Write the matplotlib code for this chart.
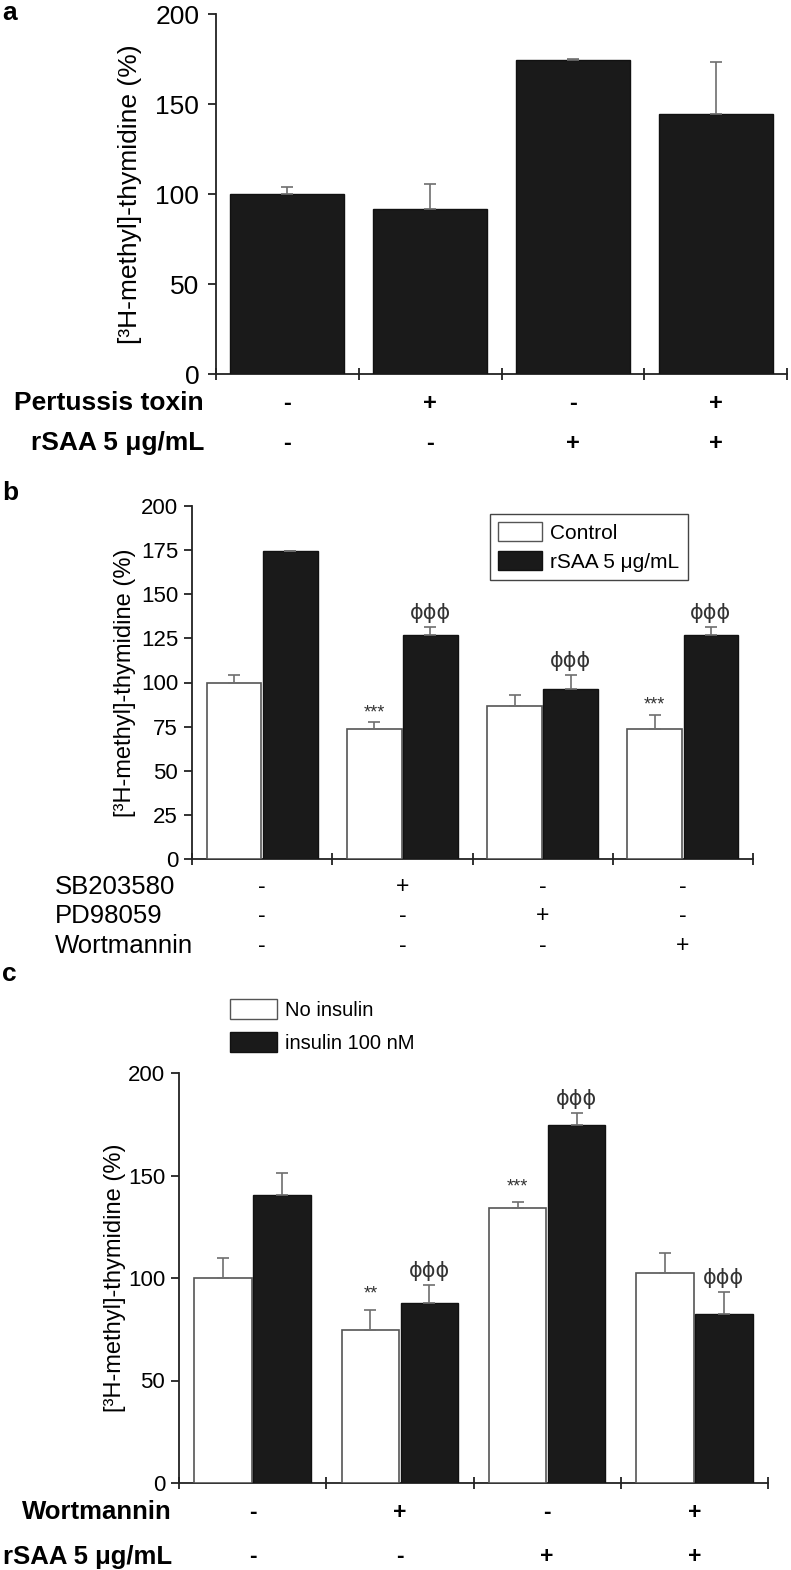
import matplotlib
matplotlib.use("Agg")
import matplotlib.pyplot as plt
import numpy as np
from matplotlib.patches import Patch

plt.rcParams["font.family"] = ["Liberation Sans", "DejaVu Sans"]

W, H = 791, 1570
YLABEL = "[³H-methyl]-thymidine (%)"
DARK = "#1a1a1a"
ERRC = "#6e6e6e"
EDGE = "#555555"

# ---- panel a ----
A_ROWS = ["Pertussis toxin", "rSAA 5 μg/mL"]
A_SIGNS = [["-", "+", "-", "+"], ["-", "-", "+", "+"]]
A_MEAN = [100, 91.9, 174.5, 144.6]
A_ERR = [4.0, 13.6, 0.5, 28.5]

# ---- panel b ----
B_ROWS = ["SB203580", "PD98059", "Wortmannin"]
B_SIGNS = [["-", "+", "-", "-"], ["-", "-", "+", "-"], ["-", "-", "-", "+"]]
B_CTRL = [100, 73.8, 86.7, 73.8]
B_CTRL_ERR = [4.0, 3.6, 6.2, 8.0]
B_RSAA = [174.7, 126.7, 96.1, 126.7]
B_RSAA_ERR = [0.0, 4.7, 8.1, 4.7]
B_CTRL_MARK = ["", "***", "", "***"]
B_RSAA_MARK = ["", "ϕϕϕ", "ϕϕϕ", "ϕϕϕ"]

# ---- panel c ----
C_ROWS = ["Wortmannin", "rSAA 5 μg/mL"]
C_SIGNS = [["-", "+", "-", "+"], ["-", "-", "+", "+"]]
C_NOINS = [100, 74.4, 134.3, 102.6]
C_NOINS_ERR = [10.0, 10.2, 2.8, 9.4]
C_INS = [140.5, 87.9, 174.5, 82.6]
C_INS_ERR = [10.5, 8.8, 6.0, 10.4]
C_NOINS_MARK = ["", "**", "***", ""]
C_INS_MARK = ["", "ϕϕϕ", "ϕϕϕ", "ϕϕϕ"]


def place(fig, left, right, top, bottom):
    return fig.add_axes([left / W, 1 - bottom / H, (right - left) / W, (bottom - top) / H])


def style(ax, ticks, tick_fs, pad):
    for s in ("top", "right"):
        ax.spines[s].set_visible(False)
    for s in ("left", "bottom"):
        ax.spines[s].set_color("#222222")
        ax.spines[s].set_linewidth(1.3)
    ax.set_xlim(-0.5, 3.5)
    ax.set_ylim(0, 200)
    ax.set_xticks([-0.5, 0.5, 1.5, 2.5, 3.5])
    ax.set_xticklabels([])
    ax.tick_params(axis="x", direction="inout", length=9, width=1.3, color="#222222")
    ax.set_yticks(ticks)
    ax.tick_params(axis="y", direction="out", length=6, width=1.3, color="#222222",
                   labelsize=tick_fs, pad=pad)


def err(ax, x, y, e):
    ax.errorbar(x, y, yerr=[np.zeros(len(e)), e], fmt="none", ecolor=ERRC,
                elinewidth=1.2, capsize=4, capthick=1.2, zorder=4)


def marks(ax, x, y, e, labels, fs, off):
    for xi, yi, ei, lb in zip(x, y, e, labels):
        if lb:
            ax.annotate(lb, (xi, yi + ei), xytext=(0, off), textcoords="offset points",
                        ha="center", va="bottom", fontsize=fs, color="#333333",
                        family=["DejaVu Sans"] if "ϕ" in lb else None)


def rows(ax, names, signs, ys, name_x, ha, fs, weight):
    tr = matplotlib.transforms.blended_transform_factory(ax.transData, ax.transAxes)
    for name, sg, yy in zip(names, signs, ys):
        ax.text(name_x, yy, name, transform=ax.transAxes, ha=ha, va="center",
                fontsize=fs, fontweight=weight)
        for i, s in enumerate(sg):
            ax.text(i, yy, s, transform=tr, ha="center", va="center",
                    fontsize=fs - 2, fontweight=weight)


fig = plt.figure(figsize=(W / 100, H / 100), dpi=100)
x = np.arange(4)

# panel a
ax = place(fig, 216, 787, 14, 374)
style(ax, [0, 50, 100, 150, 200], 19, 6)
ax.bar(x, A_MEAN, width=0.8, color=DARK, edgecolor="#111111", linewidth=1, zorder=3)
err(ax, x, A_MEAN, A_ERR)
ax.set_ylabel(YLABEL, fontsize=19)
ax.yaxis.set_label_coords(-0.13, 0.5)
rows(ax, A_ROWS, A_SIGNS, [-0.081, -0.192], -0.021, "right", 19, "bold")
fig.text(2 / W, 1 - 1 / H, "a", fontsize=19, fontweight="bold", va="top")

# panel b
ax = place(fig, 192, 753, 506, 859)
style(ax, np.arange(0, 201, 25), 16, 4)
bw = 0.39
ax.bar(x - 0.2, B_CTRL, width=bw, color="white", edgecolor=EDGE, linewidth=1.2, zorder=3)
ax.bar(x + 0.2, B_RSAA, width=bw, color=DARK, edgecolor="#111111", linewidth=1, zorder=3)
err(ax, x - 0.2, B_CTRL, B_CTRL_ERR)
err(ax, x + 0.2, B_RSAA, B_RSAA_ERR)
marks(ax, x - 0.2, B_CTRL, B_CTRL_ERR, B_CTRL_MARK, 13, 1)
marks(ax, x + 0.2, B_RSAA, B_RSAA_ERR, B_RSAA_MARK, 15, 3)
ax.set_ylabel(YLABEL, fontsize=17)
ax.yaxis.set_label_coords(-0.1, 0.5)
handles = [Patch(facecolor="white", edgecolor=EDGE, label="Control"),
           Patch(facecolor=DARK, edgecolor="#111111", label="rSAA 5 μg/mL")]
ax.legend(handles=handles, loc="upper left", bbox_to_anchor=(0.531, 0.977),
          fontsize=15, frameon=True, fancybox=False, edgecolor="#444444",
          framealpha=1, handlelength=2.1, handleheight=1.0, borderpad=0.4,
          labelspacing=0.4, handletextpad=0.4, borderaxespad=0)
rows(ax, B_ROWS, B_SIGNS, [-0.079, -0.161, -0.246], -0.244, "left", 18.5, "normal")
fig.text(2 / W, 1 - 481 / H, "b", fontsize=19, fontweight="bold", va="top")

# panel c
ax = place(fig, 179, 768, 1073, 1483)
style(ax, [0, 50, 100, 150, 200], 16, 4)
ax.bar(x - 0.2, C_NOINS, width=bw, color="white", edgecolor=EDGE, linewidth=1.2, zorder=3)
ax.bar(x + 0.2, C_INS, width=bw, color=DARK, edgecolor="#111111", linewidth=1, zorder=3)
err(ax, x - 0.2, C_NOINS, C_NOINS_ERR)
err(ax, x + 0.2, C_INS, C_INS_ERR)
marks(ax, x - 0.2, C_NOINS, C_NOINS_ERR, C_NOINS_MARK, 13, 5)
marks(ax, x + 0.2, C_INS, C_INS_ERR, C_INS_MARK, 15, 3)
ax.set_ylabel(YLABEL, fontsize=17)
ax.yaxis.set_label_coords(-0.09, 0.5)
handles = [Patch(facecolor="white", edgecolor=EDGE, label="No insulin"),
           Patch(facecolor=DARK, edgecolor="#111111", label="insulin 100 nM")]
ax.legend(handles=handles, loc="upper left", bbox_to_anchor=(0.087, 1.18),
          fontsize=14.5, frameon=False, handlelength=2.3, handleheight=1.15,
          labelspacing=0.6, handletextpad=0.4, borderaxespad=0, borderpad=0)
rows(ax, C_ROWS, C_SIGNS, [-0.071, -0.180], -0.012, "right", 18.5, "bold")
fig.text(2 / W, 1 - 962 / H, "c", fontsize=19, fontweight="bold", va="top")

fig.savefig("out.png", dpi=100)
